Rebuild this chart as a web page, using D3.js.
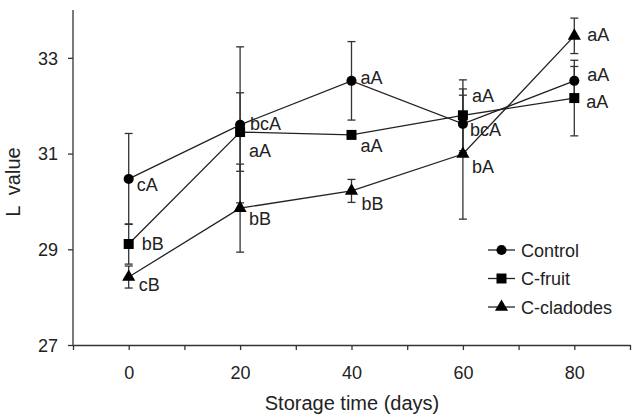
<!DOCTYPE html>
<html>
<head>
<meta charset="utf-8">
<script src="https://cdn.jsdelivr.net/npm/d3@7"></script>
<style>
  body { margin: 0; background: #fff; }
  svg text { font-family: "Liberation Sans", Arial, sans-serif; fill: #222; }
</style>
</head>
<body>
<div id="chart"></div>
<script>
"use strict";

// storage days
var days = [0, 20, 40, 60, 80];

// L value means and standard deviations
var controlMean = [30.47, 31.60, 32.52, 31.62, 32.52];
var controlSd   = [0.95, 1.63, 0.82, 0.60, 0.30];
var fruitMean   = [29.11, 31.45, 31.39, 31.80, 32.16];
var fruitSd     = [0.42, 0.82, 0.05, 0.74, 0.79];
var cladMean    = [28.42, 29.86, 30.22, 30.99, 33.46];
var cladSd      = [0.23, 0.92, 0.24, 1.36, 0.37];

// significance letters
var controlLetters = ["cA", "bcA", "aA", "bcA", "aA"];
var fruitLetters   = ["bB", "aA", "aA", "aA", "aA"];
var cladLetters    = ["cB", "bB", "bB", "bA", "aA"];

var seriesNames = ["Control", "C-fruit", "C-cladodes"];
var yTicks = [27, 29, 31, 33];
var xTicks = [0, 20, 40, 60, 80];

// label offsets from each marker (layout only)
var labelOffsets = [
  [[8, 12], [10, 5], [9, 3], [7, 12], [13, 0]],
  [[13, 6], [9, 25], [9, 17], [9, -13], [12, 10]],
  [[10, 14], [9, 17], [10, 19], [9, 19], [13, 5]]
];

var series = [
  {name: seriesNames[0], mean: controlMean, sd: controlSd, letters: controlLetters, shape: d3.symbolCircle, size: 80},
  {name: seriesNames[1], mean: fruitMean, sd: fruitSd, letters: fruitLetters, shape: d3.symbolSquare, size: 100},
  {name: seriesNames[2], mean: cladMean, sd: cladSd, letters: cladLetters, shape: d3.symbolTriangle, size: 75}
];

var width = 633, height = 414;
var plotLeft = 73, plotRight = 630, plotTop = 10, plotBottom = 345;

var svg = d3.select("#chart").append("svg")
    .attr("width", width)
    .attr("height", height);

var x = d3.scaleLinear().domain([-10, 90]).range([plotLeft, plotRight]);
var y = d3.scaleLinear().domain([27, 34]).range([plotBottom, plotTop]);

// axes
var xAxis = svg.append("g")
    .attr("transform", "translate(0," + plotBottom + ")")
    .call(d3.axisBottom(x).tickValues(d3.range(-10, 91, 10)).tickSize(5).tickSizeOuter(0)
      .tickFormat(function(d) { return xTicks.indexOf(d) >= 0 ? d : ""; }));
xAxis.selectAll("text").attr("y", 34).attr("dy", 0).style("font-size", "18px");

var yAxis = svg.append("g")
    .attr("transform", "translate(" + plotLeft + ",0)")
    .call(d3.axisLeft(y).tickValues(yTicks).tickSize(5).tickSizeOuter(0).tickFormat(d3.format("d")));
yAxis.selectAll("text").attr("x", -15).attr("dy", "0.35em").style("font-size", "18px");
yAxis.select(".domain").attr("d", "M0," + plotTop + "V" + plotBottom);

svg.selectAll(".domain, .tick line").attr("stroke", "#333").attr("stroke-width", 1.3);

svg.append("text")
    .attr("x", 352)
    .attr("y", 410)
    .attr("text-anchor", "middle")
    .style("font-size", "20px")
    .text("Storage time (days)");

svg.append("text")
    .attr("transform", "translate(20,182) rotate(-90)")
    .attr("text-anchor", "middle")
    .style("font-size", "20px")
    .style("white-space", "pre")
    .text("L  value");

var line = d3.line()
    .x(function(d) { return x(d[0]); })
    .y(function(d) { return y(d[1]); });

// error bars first
series.forEach(function(s) {
  var g = svg.append("g");
  days.forEach(function(day, i) {
    var hi = y(s.mean[i] + s.sd[i]), lo = y(s.mean[i] - s.sd[i]), cx = x(day);
    g.append("line").attr("x1", cx).attr("x2", cx).attr("y1", hi).attr("y2", lo)
      .attr("stroke", "#333").attr("stroke-width", 1.3);
    [hi, lo].forEach(function(v) {
      g.append("line").attr("x1", cx - 4).attr("x2", cx + 4).attr("y1", v).attr("y2", v)
        .attr("stroke", "#333").attr("stroke-width", 1.3);
    });
  });
});

series.forEach(function(s, si) {
  var pts = days.map(function(d, i) { return [d, s.mean[i]]; });
  svg.append("path")
      .attr("d", line(pts))
      .attr("fill", "none")
      .attr("stroke", "#222")
      .attr("stroke-width", 1.3);

  svg.selectAll(".m" + si)
      .data(pts)
      .enter()
      .append("path")
      .attr("class", "m" + si)
      .attr("transform", function(d) { return "translate(" + x(d[0]) + "," + y(d[1]) + ")"; })
      .attr("d", d3.symbol().type(s.shape).size(s.size))
      .attr("fill", "#000");

  svg.selectAll(".l" + si)
      .data(pts)
      .enter()
      .append("text")
      .attr("class", "l" + si)
      .attr("x", function(d, i) { return x(d[0]) + labelOffsets[si][i][0]; })
      .attr("y", function(d, i) { return y(d[1]) + labelOffsets[si][i][1]; })
      .style("font-size", "18px")
      .text(function(d, i) { return s.letters[i]; });
});

// legend
var legend = svg.append("g").attr("transform", "translate(488,250)");
series.forEach(function(s, i) {
  var row = legend.append("g").attr("transform", "translate(0," + (i * 28.5) + ")");
  row.append("line").attr("x1", 0).attr("x2", 27).attr("y1", 0).attr("y2", 0)
    .attr("stroke", "#222").attr("stroke-width", 1.3);
  row.append("path").attr("transform", "translate(13.5,0)")
    .attr("d", d3.symbol().type(s.shape).size(s.size)).attr("fill", "#000");
  row.append("text").attr("x", 33).attr("y", 6.5).style("font-size", "18px").text(s.name);
});
</script>
</body>
</html>
